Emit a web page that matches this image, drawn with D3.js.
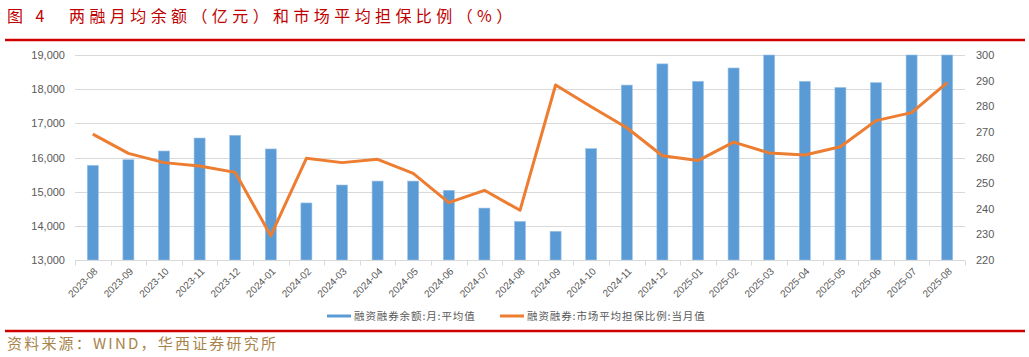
<!DOCTYPE html>
<html><head><meta charset="utf-8">
<script src="https://cdn.jsdelivr.net/npm/d3@7/dist/d3.min.js"></script>
<style>
html,body{margin:0;padding:0;background:#fff;}
svg{display:block;}
</style></head>
<body>
<svg id="chart" width="1029" height="357"></svg>
<script>
const categories = ["2023-08","2023-09","2023-10","2023-11","2023-12","2024-01","2024-02","2024-03","2024-04","2024-05","2024-06","2024-07","2024-08","2024-09","2024-10","2024-11","2024-12","2025-01","2025-02","2025-03","2025-04","2025-05","2025-06","2025-07","2025-08"];
const balanceAvg = [15770,15935,16190,16570,16650,16250,14670,15195,15310,15310,15040,14520,14130,13840,16260,18120,18740,18230,18620,19200,18230,18050,18190,19600,20800];
const collateralRatio = [269.1,261.6,258.0,256.7,254.2,229.5,259.7,258.0,259.3,253.8,242.4,247.2,239.4,288.3,279.8,271.6,260.7,258.8,266.0,261.8,261.0,264.2,274.4,277.5,289.2];
const leftTicks = [13000,14000,15000,16000,17000,18000,19000];
const rightTicks = [220,230,240,250,260,270,280,290,300];
const seriesNames = ["融资融券余额:月:平均值","融资融券:市场平均担保比例:当月值"];
const titleText = "图 4　两融月均余额（亿元）和市场平均担保比例（%）";
const sourceText = "资料来源：WIND，华西证券研究所";

const svg = d3.select("#chart");
const plot = {left:75, right:965, top:55, bottom:260};
const cjk = "'Noto Sans CJK SC','Noto Sans',sans-serif";
const num = "'Liberation Sans','DejaVu Sans',sans-serif";

// title
svg.append("text").attr("x",7).attr("y",22).attr("fill","#c00000")
  .attr("font-family",cjk).attr("font-size",16).attr("letter-spacing","4.4px")
  .text(titleText);
svg.append("line").attr("x1",5).attr("x2",1025).attr("y1",40).attr("y2",40)
  .attr("stroke","#d00000").attr("stroke-width",2.5);

const x = d3.scaleBand().domain(categories).range([plot.left,plot.right]).paddingInner(0.69).paddingOuter(0.345);
const y = d3.scaleLinear().domain([13000,19000]).range([plot.bottom,plot.top]).clamp(true);
const y2 = d3.scaleLinear().domain([220,300]).range([plot.bottom,plot.top]);

// gridlines
svg.append("g").selectAll("line").data(leftTicks.slice(1)).join("line")
  .attr("x1",plot.left).attr("x2",plot.right)
  .attr("y1",d=>Math.round(y(d))+0.5).attr("y2",d=>Math.round(y(d))+0.5)
  .attr("stroke","#d9d9d9").attr("stroke-width",1);

// bars
svg.append("g").selectAll("rect").data(categories).join("rect")
  .attr("x",d=>x(d)).attr("width",x.bandwidth())
  .attr("y",(d,i)=>y(balanceAvg[i])).attr("height",(d,i)=>plot.bottom-y(balanceAvg[i]))
  .attr("fill","#5b9bd5").attr("stroke","#9cc3e6").attr("stroke-width",0.6);

// x axis
const xAxisG = svg.append("g").attr("transform",`translate(0,${plot.bottom+0.5})`);
xAxisG.append("line").attr("x1",plot.left).attr("x2",plot.right).attr("stroke","#d9d9d9");
const step = x.step();
const boundaries = d3.range(categories.length+1).map(i=>plot.left+i*step);
xAxisG.selectAll("line.tk").data(boundaries).join("line").attr("class","tk")
  .attr("x1",d=>Math.round(d)+0.5).attr("x2",d=>Math.round(d)+0.5).attr("y1",0).attr("y2",5)
  .attr("stroke","#d9d9d9");
xAxisG.selectAll("text").data(categories).join("text")
  .attr("transform",d=>`translate(${x(d)+x.bandwidth()/2+3},${9}) rotate(-45)`)
  .attr("text-anchor","end").attr("dy","0.35em")
  .attr("font-family",num).attr("font-size",10).attr("fill","#595959").text(d=>d);

// left axis
const yAxis = d3.axisLeft(y).tickValues(leftTicks).tickSize(0).tickPadding(10).tickFormat(d3.format(",d"));
const yg = svg.append("g").attr("transform",`translate(${plot.left},0)`).call(yAxis);
yg.select(".domain").remove();
yg.selectAll("text").attr("font-family",num).attr("font-size",11).attr("fill","#595959");

// right axis
const y2Axis = d3.axisRight(y2).tickValues(rightTicks).tickSize(0).tickPadding(11);
const y2g = svg.append("g").attr("transform",`translate(${plot.right},0)`).call(y2Axis);
y2g.select(".domain").remove();
y2g.selectAll("text").attr("font-family",num).attr("font-size",11).attr("fill","#595959");

// line
const line = d3.line().x((d,i)=>x(categories[i])+x.bandwidth()/2).y(d=>y2(d));
svg.append("path").datum(collateralRatio).attr("d",line)
  .attr("fill","none").attr("stroke","#ed7d31").attr("stroke-width",3).attr("stroke-linejoin","round");

// legend
const lg = svg.append("g").attr("transform","translate(0,316)");
const legendItems = [{name:seriesNames[0],color:"#5b9bd5",x:327},{name:seriesNames[1],color:"#ed7d31",x:500}];
legendItems.forEach(it=>{
  lg.append("line").attr("x1",it.x).attr("x2",it.x+24).attr("y1",0).attr("y2",0).attr("stroke",it.color).attr("stroke-width",3);
  lg.append("text").attr("x",it.x+27).attr("y",0).attr("dy","0.35em")
    .attr("font-family",cjk).attr("font-size",10.5).attr("letter-spacing","0.9px").attr("fill","#595959").text(it.name);
});

// footer
svg.append("line").attr("x1",5).attr("x2",1025).attr("y1",331).attr("y2",331)
  .attr("stroke","#d00000").attr("stroke-width",2.5);
svg.append("text").attr("x",7).attr("y",349).attr("fill","#a8844a")
  .attr("font-family",cjk).attr("font-size",15).attr("letter-spacing","2.2px").text(sourceText);
</script>
</body></html>
